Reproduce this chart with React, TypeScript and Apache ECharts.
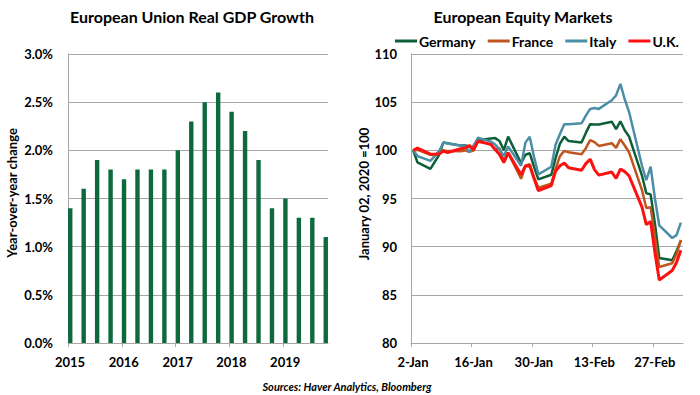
import { useEffect, useRef } from "react";
import * as echarts from "echarts";

// ---------- Left chart: EU real GDP growth (quarterly, % y/y) ----------
const gdpQuarters = [
  "2015Q1", "2015Q2", "2015Q3", "2015Q4",
  "2016Q1", "2016Q2", "2016Q3", "2016Q4",
  "2017Q1", "2017Q2", "2017Q3", "2017Q4",
  "2018Q1", "2018Q2", "2018Q3", "2018Q4",
  "2019Q1", "2019Q2", "2019Q3", "2019Q4",
];
const gdpGrowth = [
  1.4, 1.6, 1.9, 1.8,
  1.7, 1.8, 1.8, 1.8,
  2.0, 2.3, 2.5, 2.6,
  2.4, 2.2, 1.9, 1.4,
  1.5, 1.3, 1.3, 1.1,
];
const gdpYearLabels = ["2015", "2016", "2017", "2018", "2019"];

// ---------- Right chart: European equity markets (Jan 02, 2020 = 100) ----------
const tradingDays = [
  "2020-01-02", "2020-01-03", "2020-01-06", "2020-01-07", "2020-01-08", "2020-01-09", "2020-01-10",
  "2020-01-13", "2020-01-14", "2020-01-15", "2020-01-16", "2020-01-17",
  "2020-01-20", "2020-01-21", "2020-01-22", "2020-01-23", "2020-01-24",
  "2020-01-27", "2020-01-28", "2020-01-29", "2020-01-30", "2020-01-31",
  "2020-02-03", "2020-02-04", "2020-02-05", "2020-02-06", "2020-02-07",
  "2020-02-10", "2020-02-11", "2020-02-12", "2020-02-13", "2020-02-14",
  "2020-02-17", "2020-02-18", "2020-02-19", "2020-02-20", "2020-02-21",
  "2020-02-24", "2020-02-25", "2020-02-26", "2020-02-27", "2020-02-28",
  "2020-03-02", "2020-03-03", "2020-03-04",
];
const germany = [
  100.0, 98.75, 98.07, 98.81, 99.51, 100.82, 100.73,
  100.49, 100.53, 100.35, 100.33, 101.05,
  101.22, 101.27, 100.97, 100.02, 101.43,
  98.65, 99.54, 99.7, 98.29, 96.98,
  97.46, 99.22, 100.69, 101.41, 100.96,
  100.81, 101.81, 102.72, 102.69, 102.68,
  102.97, 102.21, 103.01, 102.08, 101.44,
  97.38, 95.55, 95.43, 92.39, 88.83,
  88.58, 89.54, 90.6,
];
const france = [
  100.0, 100.04, 99.54, 99.52, 99.84, 100.02, 99.92,
  99.91, 99.99, 99.85, 99.97, 100.98,
  100.61, 100.07, 100.21, 98.85, 99.71,
  97.05, 98.4, 98.56, 97.19, 96.11,
  96.54, 98.1, 99.4, 99.94, 99.8,
  99.6, 100.22, 101.05, 100.85, 100.46,
  100.74, 100.25, 101.16, 100.5, 99.8,
  95.87, 94.01, 94.1, 90.96, 87.89,
  88.28, 89.2, 90.7,
];
const italy = [
  100.0, 99.4, 98.9, 99.4, 99.9, 100.8, 100.7,
  100.5, 100.5, 99.8, 100.5, 101.3,
  100.9, 100.6, 100.1, 99.4, 100.4,
  98.4, 100.8, 101.4, 99.3, 97.5,
  98.3, 100.6, 101.7, 102.7, 102.7,
  102.8, 103.6, 104.3, 104.4, 104.3,
  105.2, 105.7, 106.9, 105.3, 104.0,
  98.4, 96.9, 98.3, 95.0, 92.2,
  90.9, 91.2, 92.5,
];
const uk = [
  100.0, 100.24, 99.62, 99.6, 99.61, 99.92, 99.78,
  100.17, 100.24, 100.51, 100.07, 100.93,
  100.62, 100.08, 99.57, 98.73, 99.76,
  97.47, 98.38, 98.41, 97.08, 95.81,
  96.35, 97.84, 98.4, 98.69, 98.19,
  97.93, 98.62, 99.08, 98.0, 97.43,
  97.75, 97.08, 98.06, 97.79, 97.36,
  94.11, 92.29, 92.61, 89.38, 86.54,
  87.52, 88.35, 89.63,
];
const equityTickLabels = ["2-Jan", "16-Jan", "30-Jan", "13-Feb", "27-Feb"];
const seriesNames = ["Germany", "France", "Italy", "U.K."];

const FONT = "Lato, 'Open Sans', 'DejaVu Sans', sans-serif";
const GRID_COLOR = "#a6a6a6";
const COLORS = {
  bar: "#0e6a3d",
  Germany: "#0d5f37",
  France: "#c0561f",
  Italy: "#4c8ea8",
  UK: "#ff1010",
};

// months since Jan 2015, placed mid-month (date axis, between tick marks)
function quarterToX(q: string): number {
  const year = parseInt(q.slice(0, 4), 10);
  const quarter = parseInt(q.slice(5), 10);
  return (year - 2015) * 12 + (quarter - 1) * 3 + 0.5;
}
const BASE_DAY = Date.UTC(2020, 0, 2);
function dayToX(d: string): number {
  const [y, m, dd] = d.split("-").map((s) => parseInt(s, 10));
  return (Date.UTC(y, m - 1, dd) - BASE_DAY) / 86400000 + 0.5;
}

export default function App() {
  const ref = useRef<HTMLDivElement>(null);

  useEffect(() => {
    if (!ref.current) return;
    const chart = echarts.init(ref.current, null, { renderer: "svg" });

    const lineSeries = (name: string, values: number[], color: string, width: number) => ({
      name,
      type: "line",
      xAxisIndex: 1,
      yAxisIndex: 1,
      showSymbol: false,
      symbol: "none",
      data: tradingDays.map((d, i) => [dayToX(d), values[i]]),
      lineStyle: { color, width },
      itemStyle: { color },
      z: 3,
    });

    const axisLabelBase = {
      color: "#000",
      fontFamily: FONT,
      fontWeight: "bold" as const,
      fontSize: 13,
    };

    const option = {
      animation: false,
      textStyle: { fontFamily: FONT },
      legend: {
        left: 390,
        top: 29,
        icon: "rect",
        itemWidth: 22,
        itemHeight: 3,
        itemGap: 12,
        data: seriesNames,
        textStyle: { color: "#000", fontFamily: FONT, fontWeight: "bold", fontSize: 14, padding: [0, 0, 0, -3] },
      },
      grid: [
        { left: 68, top: 54, width: 260, height: 289 },
        { left: 411, top: 54, width: 272, height: 289 },
      ],
      xAxis: [
        {
          type: "value",
          gridIndex: 0,
          min: 0,
          max: 58,
          interval: 12,
          axisLine: { show: true, lineStyle: { color: GRID_COLOR } },
          axisTick: { show: true, length: 4, lineStyle: { color: GRID_COLOR }, customValues: [0, 12, 24, 36, 48] },
          axisLabel: {
            ...axisLabelBase,
            margin: 12,
            padding: [0, 0, 0, 4],
            customValues: [0, 12, 24, 36, 48],
            formatter: (v: number) => gdpYearLabels[Math.round(v / 12)] ?? "",
          },
          splitLine: { show: false },
        },
        {
          type: "value",
          gridIndex: 1,
          min: 0,
          max: 63,
          interval: 14,
          axisLine: { show: true, lineStyle: { color: GRID_COLOR } },
          axisTick: { show: true, length: 4, lineStyle: { color: GRID_COLOR }, customValues: [0, 14, 28, 42, 56] },
          axisLabel: {
            ...axisLabelBase,
            margin: 12,
            padding: [0, 0, 0, 4],
            customValues: [0, 14, 28, 42, 56],
            formatter: (v: number) => equityTickLabels[Math.round(v / 14)] ?? "",
          },
          splitLine: { show: false },
        },
      ],
      yAxis: [
        {
          type: "value",
          gridIndex: 0,
          min: 0,
          max: 3,
          interval: 0.5,
          axisLine: { show: true, lineStyle: { color: GRID_COLOR } },
          axisTick: { show: false },
          axisLabel: { ...axisLabelBase, margin: 15, formatter: (v: number) => v.toFixed(1) + "%" },
          splitLine: { show: true, lineStyle: { color: GRID_COLOR, width: 1 } },
        },
        {
          type: "value",
          gridIndex: 1,
          min: 80,
          max: 110,
          interval: 5,
          axisLine: { show: true, lineStyle: { color: GRID_COLOR } },
          axisTick: { show: false },
          axisLabel: { ...axisLabelBase, margin: 14 },
          splitLine: { show: true, lineStyle: { color: GRID_COLOR, width: 1 } },
        },
      ],
      series: [
        {
          name: "EU Real GDP",
          type: "bar",
          xAxisIndex: 0,
          yAxisIndex: 0,
          barWidth: 4.4,
          data: gdpQuarters.map((q, i) => [quarterToX(q), gdpGrowth[i]]),
          itemStyle: { color: COLORS.bar },
        },
        lineSeries(seriesNames[0], germany, COLORS.Germany, 2.5),
        lineSeries(seriesNames[1], france, COLORS.France, 2.5),
        lineSeries(seriesNames[2], italy, COLORS.Italy, 2.5),
        lineSeries(seriesNames[3], uk, COLORS.UK, 3),
      ],
      graphic: [
        {
          type: "text",
          x: 192,
          y: 16,
          style: {
            text: "European Union Real GDP Growth",
            textAlign: "center",
            textVerticalAlign: "middle",
            fontFamily: FONT,
            fontWeight: "bold",
            fontSize: 16,
            fill: "#000",
          },
        },
        {
          type: "text",
          x: 523,
          y: 16,
          style: {
            text: "European Equity Markets",
            textAlign: "center",
            textVerticalAlign: "middle",
            fontFamily: FONT,
            fontWeight: "bold",
            fontSize: 16,
            fill: "#000",
          },
        },
        {
          type: "text",
          x: 12,
          y: 193,
          rotation: Math.PI / 2,
          style: {
            text: "Year-over-year change",
            textAlign: "center",
            textVerticalAlign: "middle",
            fontFamily: FONT,
            fontWeight: "bold",
            fontSize: 13,
            fill: "#000",
          },
        },
        {
          type: "text",
          x: 364,
          y: 194,
          rotation: Math.PI / 2,
          style: {
            text: "January 02, 2020 =100",
            textAlign: "center",
            textVerticalAlign: "middle",
            fontFamily: FONT,
            fontWeight: "bold",
            fontSize: 13,
            fill: "#000",
          },
        },
        {
          type: "text",
          x: 347,
          y: 386,
          style: {
            text: "Sources: Haver Analytics, Bloomberg",
            textAlign: "center",
            textVerticalAlign: "middle",
            fontFamily: FONT,
            fontWeight: "bold",
            fontStyle: "italic",
            fontSize: 11,
            fill: "#000",
          },
        },
      ],
    };

    chart.setOption(option as any);
    return () => {
      chart.dispose();
    };
  }, []);

  return (
    <div
      ref={ref}
      style={{ width: 700, height: 395, position: "absolute", left: 0, top: 0, background: "#fff" }}
    />
  );
}
